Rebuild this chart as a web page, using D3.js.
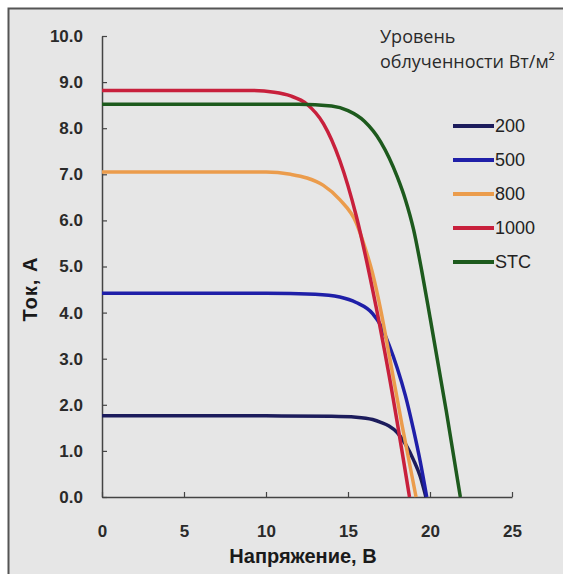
<!DOCTYPE html>
<html lang="ru">
<head>
    <meta charset="UTF-8">
    <script src="https://cdn.jsdelivr.net/npm/d3@7"></script>
    <style>
        body { margin: 0; background: #fff; }
        svg { display: block; }
    </style>
</head>
<body>
    <div class="fig"></div>
    <script>
        // Series data (voltage V, current A)
        const v200  = [0, 10, 14, 15.5, 16.5, 17.0, 17.5, 18.0, 18.5, 19.0, 19.4, 19.75];
        const i200  = [1.76, 1.76, 1.75, 1.73, 1.68, 1.62, 1.54, 1.40, 1.15, 0.8, 0.45, 0];
        const v500  = [0, 10, 13, 14.5, 15.5, 16.5, 17.0, 17.5, 18.0, 18.5, 19.0, 19.4, 19.8];
        const i500  = [4.42, 4.42, 4.40, 4.34, 4.22, 3.98, 3.72, 3.3, 2.8, 2.2, 1.45, 0.78, 0];
        const v800  = [0, 10, 11.5, 12.5, 13.5, 14.5, 15.5, 16.0, 16.5, 17.0, 17.5, 18.3, 19.15];
        const i800  = [7.05, 7.05, 7.0, 6.92, 6.76, 6.45, 5.95, 5.45, 4.85, 4.05, 3.1, 1.55, 0];
        const v1000 = [0, 9, 10.5, 11.5, 12.5, 13.5, 14.5, 15.5, 16.5, 17.5, 18.75];
        const i1000 = [8.82, 8.82, 8.78, 8.7, 8.52, 8.1, 7.3, 6.1, 4.5, 2.65, 0];
        const vSTC  = [0, 12, 14, 15, 16, 17, 18, 18.5, 19, 19.5, 20, 21, 21.85];
        const iSTC  = [8.52, 8.52, 8.48, 8.38, 8.15, 7.7, 6.95, 6.45, 5.8, 4.9, 3.9, 1.85, 0];

        const seriesNames = ["200", "500", "800", "1000", "STC"];
        const seriesColors = ["#1c1c5c", "#1f1fa8", "#eb9c4c", "#c8203c", "#1d5a1d"];
        const xTicks = [0, 5, 10, 15, 20, 25];
        const yTicks = [0, 1, 2, 3, 4, 5, 6, 7, 8, 9, 10];

        const series = [
            [v200, i200], [v500, i500], [v800, i800], [v1000, i1000], [vSTC, iSTC]
        ].map((s, k) => ({
            name: seriesNames[k],
            color: seriesColors[k],
            points: s[0].map((v, j) => [v, s[1][j]])
        }));

        /*------------------- Window setting --------------------*/
        const width = 563;
        const height = 574;
        const margin = { top: 36, right: 51, bottom: 77, left: 102 };

        const svg = d3.select(".fig").append("svg")
            .attr("width", width)
            .attr("height", height);

        // gray panel with dark frame on top/left
        svg.append("rect")
            .attr("x", 8.5).attr("y", 8.5)
            .attr("width", width).attr("height", height)
            .attr("fill", "#e6e6e6")
            .attr("stroke", "#555")
            .attr("stroke-width", 2);

        const xScale = d3.scaleLinear()
            .domain([0, 25])
            .range([margin.left, width - margin.right]);
        const yScale = d3.scaleLinear()
            .domain([0, 10])
            .range([height - margin.bottom, margin.top]);

        // axes
        const xAxis = svg.append("g")
            .attr("transform", `translate(0,${height - margin.bottom})`)
            .call(d3.axisBottom(xScale).tickValues(xTicks).tickSizeInner(-5).tickSizeOuter(0).tickPadding(28));
        const yAxis = svg.append("g")
            .attr("transform", `translate(${margin.left},0)`)
            .call(d3.axisLeft(yScale).tickValues(yTicks).tickSizeInner(-5).tickSizeOuter(0).tickPadding(19)
                .tickFormat(d3.format(".1f")));

        [xAxis, yAxis].forEach(ax => {
            ax.select(".domain").attr("stroke", "#444").attr("stroke-width", 1.5);
            ax.selectAll(".tick line").attr("stroke", "#444").attr("stroke-width", 1.2);
            ax.selectAll(".tick text")
                .attr("fill", "#2a2a2a")
                .style("font-family", "Liberation Sans, Arial, sans-serif")
                .style("font-size", "17px")
                .style("font-weight", "bold");
        });

        // curves
        const line = d3.line()
            .x(d => xScale(d[0]))
            .y(d => yScale(d[1]))
            .curve(d3.curveMonotoneX);

        svg.append("g").selectAll("path")
            .data(series)
            .enter()
            .append("path")
            .attr("d", d => line(d.points))
            .attr("fill", "none")
            .attr("stroke", d => d.color)
            .attr("stroke-width", 3.5)
            .attr("stroke-linejoin", "round");

        // axis titles
        svg.append("text")
            .attr("x", 303).attr("y", 563)
            .attr("text-anchor", "middle")
            .style("font-family", "Liberation Sans, Arial, sans-serif")
            .style("font-size", "20px")
            .style("font-weight", "bold")
            .attr("fill", "#1a1a1a")
            .text("Напряжение, В");

        svg.append("text")
            .attr("transform", "translate(37,289) rotate(-90)")
            .attr("text-anchor", "middle")
            .style("font-family", "Liberation Sans, Arial, sans-serif")
            .style("font-size", "20px")
            .style("font-weight", "bold")
            .style("letter-spacing", "1px")
            .attr("fill", "#1a1a1a")
            .text("Ток, А");

        // legend
        const legendTitle = svg.append("text")
            .style("font-family", "Open Sans, sans-serif")
            .style("font-size", "18px")
            .attr("fill", "#2a2a2a");
        legendTitle.append("tspan").attr("x", 380).attr("y", 43).text("Уровень");
        legendTitle.append("tspan").attr("x", 380).attr("y", 68).text("облученности Вт/м²");

        const legend = svg.append("g").selectAll("g")
            .data(series)
            .enter()
            .append("g")
            .attr("transform", (d, k) => `translate(453,${126 + k * 34})`);
        legend.append("line")
            .attr("x1", 0).attr("x2", 41)
            .attr("stroke", d => d.color)
            .attr("stroke-width", 4);
        legend.append("text")
            .attr("x", 42).attr("dy", "0.35em")
            .style("font-family", "Liberation Sans, Arial, sans-serif")
            .style("font-size", "18px")
            .attr("fill", "#222")
            .text(d => d.name);
    </script>
</body>
</html>
